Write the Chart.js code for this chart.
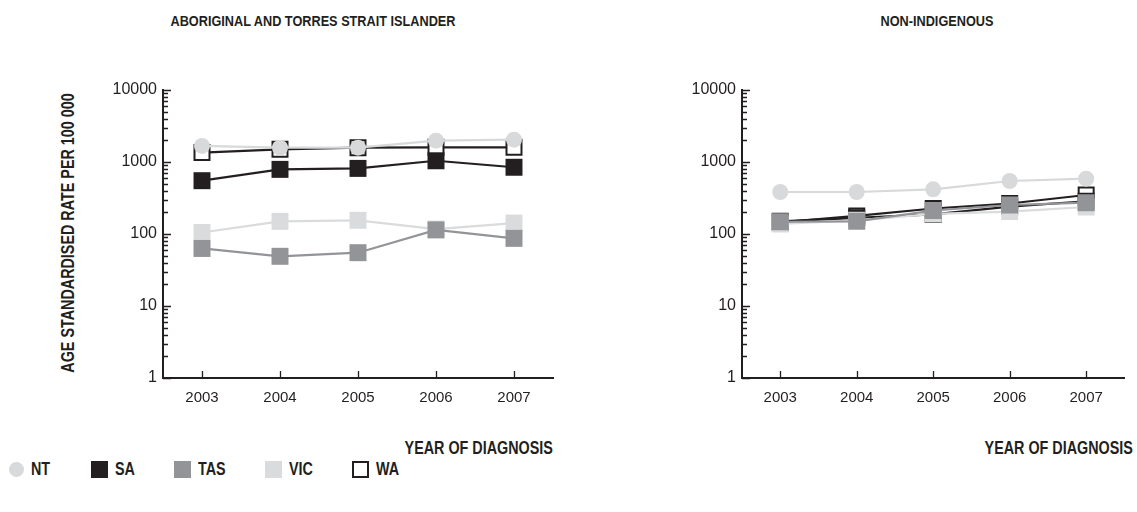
<!DOCTYPE html>
<html>
<head>
<meta charset="utf-8">
<script src="https://cdn.jsdelivr.net/npm/chart.js@4.4.1/dist/chart.umd.min.js"></script>
<style>
body{margin:0;width:1137px;height:512px;overflow:hidden;background:#fff;position:relative;
  font-family:"Liberation Sans",Arial,sans-serif;color:#231f20}
canvas{position:absolute}
.lbl{position:absolute;white-space:nowrap;font-weight:bold;line-height:1}
.sw{position:absolute;box-sizing:border-box}
</style>
</head>
<body>
<div class="lbl" style="font-size:15.5px;left:313px;top:13px;transform:translateX(-50%) scaleX(0.82)">ABORIGINAL AND TORRES STRAIT ISLANDER</div>
<div class="lbl" style="font-size:15.5px;left:937px;top:13px;transform:translateX(-50%) scaleX(0.82)">NON-INDIGENOUS</div>
<div class="lbl" style="font-size:17.5px;left:69px;top:233px;transform:translate(-50%,-50%) rotate(-90deg) scaleX(0.82)">AGE STANDARDISED RATE PER 100 000</div>
<div class="lbl" style="font-size:17.5px;right:584px;top:440px;transform-origin:right center;transform:scaleX(0.82)">YEAR OF DIAGNOSIS</div>
<div class="lbl" style="font-size:17.5px;right:4px;top:440px;transform-origin:right center;transform:scaleX(0.82)">YEAR OF DIAGNOSIS</div>

<canvas id="left" width="470" height="350" style="left:100px;top:70px"></canvas>
<canvas id="right" width="458" height="350" style="left:679px;top:70px"></canvas>

<div id="legend"></div>

<script>
// years of diagnosis
var years=['2003','2004','2005','2006','2007'];
var states=['NT','SA','TAS','VIC','WA'];
var yTicks=[1,10,100,1000,10000];

// Aboriginal and Torres Strait Islander, age standardised rate per 100 000
var indigNT=[1670,1580,1580,1980,2040];
var indigSA=[550,790,815,1040,845];
var indigTAS=[63,49,55,114,87];
var indigVIC=[105,150,155,117,142];
var indigWA=[1350,1500,1580,1600,1600];

// Non-Indigenous
var nonNT=[383,383,417,545,586];
var nonSA=[150,168,187,240,285];
var nonTAS=[148,150,212,253,272];
var nonVIC=[138,155,190,205,237];
var nonWA=[145,178,226,265,348];

var ink='#231f20';
var xFont={family:'"Liberation Sans",Arial,sans-serif',size:15};
var yFont={family:'"Liberation Sans",Arial,sans-serif',size:16};
var look={
	NT:{color:'#d8d9db',fill:'#d8d9db',style:'circle',radius:8,bw:0,order:0},
	SA:{color:ink,fill:ink,style:'rect',radius:12,bw:0,order:3},
	TAS:{color:'#929497',fill:'#929497',style:'rect',radius:12,bw:0,order:1},
	VIC:{color:'#dadbdd',fill:'#dadbdd',style:'rect',radius:12,bw:0,order:2},
	WA:{color:ink,fill:'#ffffff',style:'rect',radius:10.6,bw:2,order:4}
};

function makeSets(values){
	var datasets=[];
	for(var i=0;i<states.length;i++){
		var s=look[states[i]];
		datasets.push({
			label:states[i],
			data:values[i],
			borderColor:s.color,
			borderWidth:2.2,
			pointStyle:s.style,
			pointRadius:s.radius,
			pointHoverRadius:s.radius,
			pointBackgroundColor:s.fill,
			pointBorderColor:s.color,
			pointBorderWidth:s.bw,
			order:s.order,
			tension:0
		});
	}
	return datasets;
}

//draws inward tick marks on both axes (log minors on y)
var tickMarks={
	id:'tickMarks',
	afterDraw:function(chart){
		var ctx=chart.ctx,x=chart.scales.x,y=chart.scales.y,a=chart.chartArea;
		ctx.save();
		ctx.strokeStyle=ink;
		ctx.lineWidth=1.3;
		ctx.beginPath();
		for(var k=0;k<yTicks.length;k++){
			for(var m=1;m<=9;m++){
				var v=yTicks[k]*m;
				if(v>yTicks[yTicks.length-1])break;
				var py=Math.round(y.getPixelForValue(v))+0.5;
				ctx.moveTo(a.left,py);
				ctx.lineTo(a.left+(m==1?8:5),py);
			}
		}
		for(var i=0;i<years.length;i++){
			var px=Math.round(x.getPixelForValue(i))+0.5;
			ctx.moveTo(px,a.bottom);
			ctx.lineTo(px,a.bottom-7);
		}
		ctx.stroke();
		ctx.restore();
	}
};

function plot(id,values,padRight){
	var ctx=document.getElementById(id).getContext('2d');
	return new Chart(ctx,{
		type:'line',
		data:{labels:years,datasets:makeSets(values)},
		options:{
			responsive:false,
			animation:false,
			events:[],
			layout:{padding:{top:20,right:padRight,left:0,bottom:0}},
			plugins:{legend:{display:false},tooltip:{enabled:false}},
			scales:{
				x:{
					type:'category',
					offset:true,
					grid:{display:false,drawTicks:false},
					border:{display:true,color:ink,width:2},
					ticks:{color:ink,padding:11,font:xFont},
					afterFit:function(s){s.height=42;}
				},
				y:{
					type:'logarithmic',
					min:1,max:10000,
					grid:{display:false,drawTicks:false},
					border:{display:true,color:ink,width:2},
					ticks:{
						color:ink,padding:6,autoSkip:false,font:yFont,
						callback:function(v){return yTicks.indexOf(v)>=0?String(v):'';}
					},
					afterBuildTicks:function(s){
						s.ticks=yTicks.map(function(v){return {value:v};});
					},
					afterFit:function(s){s.width=63;}
				}
			}
		},
		plugins:[tickMarks]
	});
}

plot('left',[indigNT,indigSA,indigTAS,indigVIC,indigWA],17);
plot('right',[nonNT,nonSA,nonTAS,nonVIC,nonWA],5);

// legend under the left panel
var legendX=[9,91,174,265,352];
var leg=document.getElementById('legend');
for(var i=0;i<states.length;i++){
	var s=look[states[i]];
	var sw=document.createElement('div');
	sw.className='sw';
	var size=s.style=='circle'?15:17;
	sw.style.left=legendX[i]+'px';
	sw.style.top=(469-size/2)+'px';
	sw.style.width=size+'px';
	sw.style.height=size+'px';
	sw.style.background=s.fill;
	if(s.style=='circle')sw.style.borderRadius='50%';
	if(s.bw)sw.style.border='2px solid '+s.color;
	leg.appendChild(sw);
	var t=document.createElement('div');
	t.className='lbl';
	t.style.fontSize='17.5px';
	t.style.left=(legendX[i]+size+7)+'px';
	t.style.top='461px';
	t.style.transformOrigin='left center';
	t.style.transform='scaleX(0.82)';
	t.appendChild(document.createTextNode(states[i]));
	leg.appendChild(t);
}
</script>
</body>
</html>
